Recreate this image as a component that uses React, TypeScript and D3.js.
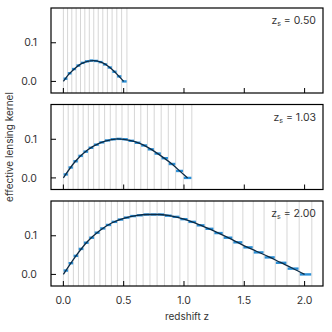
import React from "react";
import * as d3 from "d3";

// source redshifts of the three panels
const sourceZ = ["0.50", "1.03", "2.00"];

// bin edges (grey vertical lines) per panel
const edges1 = [0, 0.035, 0.07, 0.106, 0.142, 0.178, 0.215, 0.252, 0.289, 0.327, 0.365, 0.404, 0.443, 0.483, 0.527];
const edges2 = [0, 0.04, 0.081, 0.122, 0.164, 0.207, 0.251, 0.296, 0.342, 0.389, 0.437, 0.486, 0.537, 0.589, 0.642, 0.697, 0.753, 0.811, 0.87, 0.931, 0.995, 1.065];
const edges3 = [0, 0.041, 0.083, 0.125, 0.168, 0.212, 0.257, 0.303, 0.35, 0.398, 0.448, 0.499, 0.551, 0.605, 0.661, 0.718, 0.777, 0.838, 0.901, 0.966, 1.033, 1.102, 1.174, 1.248, 1.325, 1.405, 1.488, 1.574, 1.664, 1.757, 1.854, 1.955, 2.06];

// binned kernel value per bin
const binned1 = [0.007, 0.021, 0.032, 0.041, 0.048, 0.052, 0.054, 0.053, 0.05, 0.044, 0.036, 0.025, 0.013, 0];
const binned2 = [0.009, 0.027, 0.043, 0.057, 0.068, 0.078, 0.086, 0.092, 0.097, 0.1, 0.101, 0.1, 0.096, 0.091, 0.084, 0.074, 0.063, 0.051, 0.036, 0.018, 0];
const binned3 = [0.01, 0.029, 0.048, 0.066, 0.082, 0.095, 0.108, 0.119, 0.128, 0.136, 0.142, 0.147, 0.151, 0.153, 0.155, 0.155, 0.155, 0.152, 0.149, 0.143, 0.136, 0.127, 0.118, 0.107, 0.095, 0.083, 0.07, 0.057, 0.044, 0.03, 0.015, 0];

// continuous kernel, [z, value]
const curve1: [number, number][] = [[0, 0], [0.05, 0.02], [0.1, 0.035], [0.15, 0.046], [0.2, 0.052], [0.25, 0.054], [0.3, 0.051], [0.35, 0.044], [0.4, 0.032], [0.45, 0.017], [0.5, 0]];
const curve2: [number, number][] = [[0, 0], [0.1, 0.043], [0.2, 0.072], [0.3, 0.09], [0.4, 0.099], [0.45, 0.101], [0.5, 0.1], [0.6, 0.093], [0.7, 0.079], [0.8, 0.059], [0.9, 0.036], [1.0, 0.008], [1.03, 0]];
const curve3: [number, number][] = [[0, 0], [0.1, 0.046], [0.2, 0.085], [0.3, 0.113], [0.4, 0.133], [0.5, 0.145], [0.6, 0.152], [0.7, 0.155], [0.8, 0.155], [0.9, 0.151], [1.0, 0.143], [1.1, 0.132], [1.2, 0.119], [1.3, 0.105], [1.4, 0.09], [1.5, 0.074], [1.6, 0.06], [1.7, 0.046], [1.8, 0.031], [1.9, 0.016], [2.0, 0]];

const xTicks = [0, 0.5, 1, 1.5, 2];
const yTicks = [0, 0.1];

const panels = [
  { zs: sourceZ[0], edges: edges1, binned: binned1, curve: curve1 },
  { zs: sourceZ[1], edges: edges2, binned: binned2, curve: curve2 },
  { zs: sourceZ[2], edges: edges3, binned: binned3, curve: curve3 },
];

const W = 332, H = 332;
const left = 51, right = 323;
const tops = [8, 104.5, 201];
const ph = 85;
const font = "Inter, 'DejaVu Sans', sans-serif";

export default function App() {
  const x = d3.scaleLinear().domain([-0.1025, 2.1525]).range([left, right]);
  const line = d3.line<[number, number]>().curve(d3.curveMonotoneX);

  return (
    <svg width={W} height={H} style={{ position: "absolute", left: 0, top: 0 }} fontFamily={font}>
      <rect width={W} height={H} fill="#fff" />
      {panels.map((p, i) => {
        const top = tops[i];
        const y = d3.scaleLinear().domain([-0.03, 0.19]).range([top + ph, top]);
        const path = line.x(d => x(d[0])).y(d => y(d[1]))(p.curve) || "";
        const bins = p.binned.map((v, j) => {
          const a = p.edges[j], b = p.edges[j + 1];
          const pad = (b - a) * 0.05;
          return { x0: a + pad, x1: b - pad, v };
        });
        return (
          <g key={i}>
            {p.edges.map((e, j) => (
              <line key={j} x1={x(e)} x2={x(e)} y1={top} y2={top + ph} stroke="#d6d6d6" strokeWidth={1} />
            ))}
            {bins.map((b, j) => (
              <line key={j} x1={x(b.x0)} x2={x(b.x1)} y1={y(b.v)} y2={y(b.v)} stroke="#2b8fd6" strokeWidth={2.4} />
            ))}
            <path d={path} fill="none" stroke="#0c2b45" strokeWidth={1.3} />
            {xTicks.map(t => (
              <line key={t} x1={x(t)} x2={x(t)} y1={top + ph} y2={top + ph - 5} stroke="#000" strokeWidth={1} />
            ))}
            {yTicks.map(t => (
              <g key={t}>
                <line x1={left} x2={left + 5} y1={y(t)} y2={y(t)} stroke="#000" strokeWidth={1} />
                <text x={37} y={y(t)} dy="0.35em" textAnchor="end" fontSize={10.5} fill="#333">{t.toFixed(1)}</text>
              </g>
            ))}
            <text x={316} y={top + 16} textAnchor="end" fontSize={10.5} fill="#333">
              z<tspan fontSize={7} dy={2}>s</tspan><tspan dy={-2}> = {p.zs}</tspan>
            </text>
            <rect x={left} y={top} width={right - left} height={ph} fill="none" stroke="#000" strokeWidth={1.2} />
          </g>
        );
      })}
      {xTicks.map(t => (
        <text key={t} x={x(t)} y={304} textAnchor="middle" fontSize={10.5} fill="#333">{t.toFixed(1)}</text>
      ))}
      <text x={(left + right) / 2} y={320} textAnchor="middle" fontSize={10} fill="#333">redshift z</text>
      <text transform={`translate(13,147) rotate(-90)`} textAnchor="middle" fontSize={10} fill="#333">effective lensing kernel</text>
    </svg>
  );
}
